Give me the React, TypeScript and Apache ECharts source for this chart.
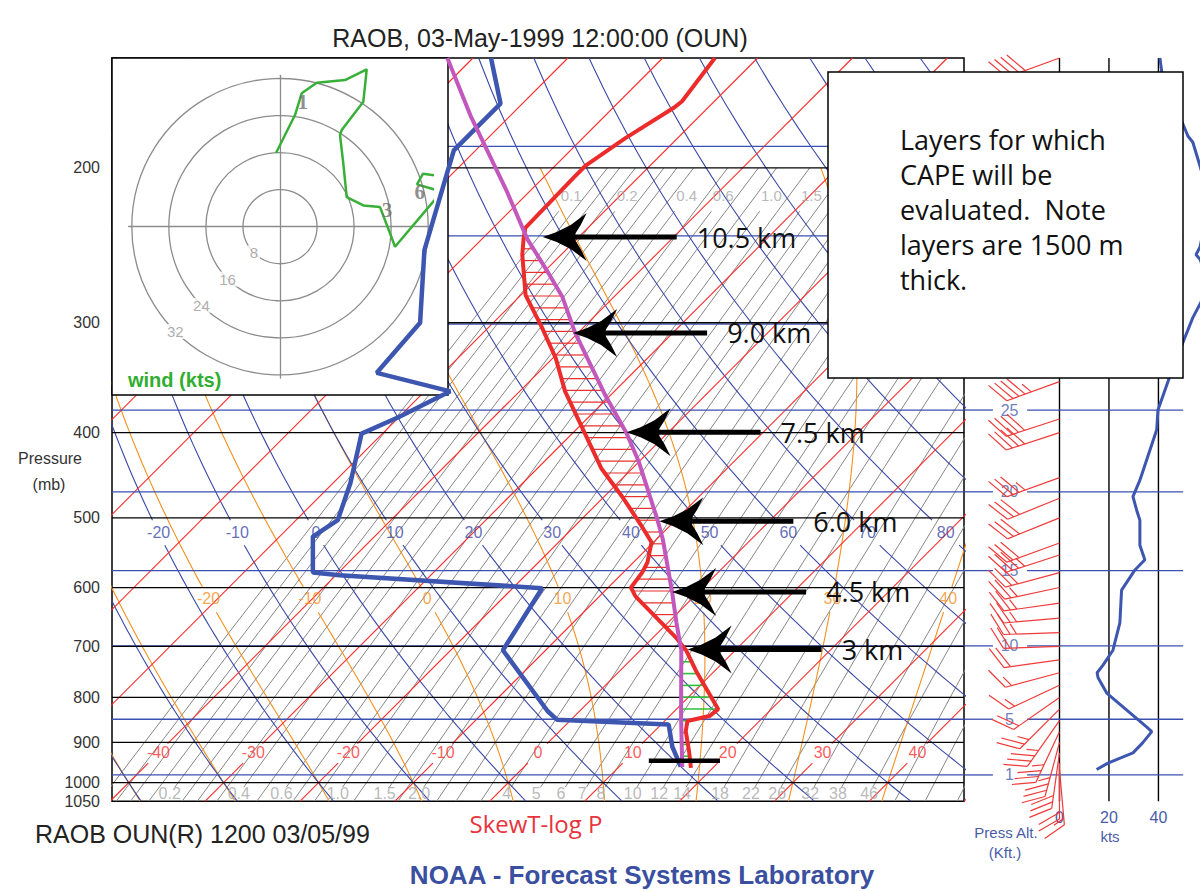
import React, { useEffect, useRef } from "react";
import * as echarts from "echarts";

// ---------------- Sounding data ----------------
const tempP = [962, 922, 874, 851, 840, 825, 746, 707, 683, 614, 600, 577, 562, 533, 512, 475, 439, 359, 329, 303, 279, 251, 241, 234, 205, 199, 185, 171, 168, 150];
const tempT = [17.7, 15.8, 13.3, 12.4, 14.2, 14.4, 8.0, 4.8, 2.3, -6.2, -7.6, -8.0, -8.5, -10.2, -12.8, -17.8, -23.3, -35.2, -39.7, -44.5, -49.5, -54.1, -55.6, -56.6, -56.8, -56.8, -55.5, -53.6, -53.4, -54.5];

const dewP = [959, 910, 859, 848, 829, 707, 601, 581, 577, 525, 503, 456, 401, 384, 359, 342, 300, 248, 205, 191, 182, 169, 150];
const dewT = [16.5, 13.5, 10.8, -1.5, -3.4, -14.5, -16.9, -39.6, -42.7, -46.5, -45.6, -48.2, -52.2, -50.0, -47.3, -57.0, -57.7, -64.9, -70.3, -72.3, -72.3, -72.3, -78.1];

const parcelP = [960, 844, 707, 658, 607, 528, 501, 431, 400, 363, 308, 280, 261, 241, 213, 175, 150];
const parcelT = [16.7, 11.4, 4.3, 0.9, -2.8, -9.4, -12.1, -20.1, -24.4, -30.5, -40.3, -45.5, -50.0, -55.2, -62.3, -74.0, -82.7];

const lfcP = 705;
const surfaceBarP = 944;
const surfaceBarT = [12.5, 20.0];

const arrowP = [239.7, 308.1, 399.7, 504.3, 607, 705.8];
const arrowT = [-53.8, -40.5, -24.4, -11.6, -2.8, 4.9];
const arrowLabels = ["10.5 km", "9.0 km", "7.5 km", "6.0 km", "4.5 km", "3 km"];

// wind speed profile (kts)
const spdP = [966, 950, 925, 901, 875, 864, 827, 791, 760, 750, 735, 707, 658, 604, 573, 558, 537, 503, 490, 473, 453, 397, 377, 337, 296, 272, 254, 251, 246, 218, 199, 187, 184, 156, 150];
const spdKts = [15.0, 19.6, 29.7, 33.6, 37.3, 35.2, 27.2, 19.1, 15.6, 15.2, 17.6, 21.6, 24.4, 25.1, 30.5, 34.5, 32.5, 32.5, 31.2, 29.7, 32.5, 39.3, 39.8, 45.9, 53.9, 60.8, 56.8, 55.2, 56.8, 60.8, 56.8, 53.9, 51.9, 41.4, 40.6];

// wind barbs
const barbP = [965, 950, 925, 900, 875, 850, 825, 800, 775, 750, 725, 700, 675, 650, 625, 600, 577, 551, 534, 500, 475, 450, 400, 386, 350, 300, 250, 200, 175, 158, 150];
const barbDir = [175, 180, 188, 195, 205, 215, 225, 235, 245, 255, 262, 268, 268, 265, 262, 258, 255, 252, 250, 248, 248, 250, 252, 252, 250, 250, 250, 250, 250, 250, 250];
const barbSpd = [15, 20, 30, 34, 37, 33, 27, 20, 16, 15, 18, 22, 24, 24, 25, 25, 30, 34, 32, 32, 30, 33, 39, 40, 45, 54, 56, 58, 52, 42, 40];

// hodograph (u, v in kts)
const hodoU = [-0.86, 3.24, 4.69, 7.93, 14.04, 18.73, 18.0, 13.33, 12.96, 13.67, 14.41, 18.0, 21.6, 23.76, 24.84, 34.93, 29.59, 30.89, 38.16, 39.24, 35.21];
const hodoV = [15.92, 24.12, 28.81, 31.1, 31.68, 34.0, 27.0, 20.88, 19.8, 13.67, 6.41, 4.6, 4.23, -1.41, -4.32, 7.56, 9.14, 11.45, 10.37, 7.56, 7.49];
const hodoMarkU = [4.9, 23.1, 30.2];
const hodoMarkV = [27.0, 3.6, 7.6];
const hodoMarkText = ["1", "3", "6"];
const hodoRings = [8, 16, 24, 32];

// axes / diagram reference values
const pressureTicks = [200, 300, 400, 500, 600, 700, 800, 900, 1000, 1050];
const pressureLines = [200, 300, 400, 500, 600, 700, 800, 900, 1000];
const kftLevels = [1, 5, 10, 15, 20, 25, 30, 35, 40];
const kftP = [980, 847, 699, 574, 467, 377, 301, 239, 189];
const kftLabelled = [1, 5, 10, 15, 20, 25];
const speedTicks = [0, 20, 40];
const isothermLabels = [-40, -30, -20, -10, 0, 10, 20, 30, 40];
const dryAdiabatLabels = [-20, -10, 0, 10, 20, 30, 40, 50, 60, 70, 80];
const moistAdiabatValues = [-40, -30, -20, -10, 0, 10, 20, 30, 40];
const moistAdiabatLabels = [-20, -10, 0, 10, 20, 30, 40];
const mixingLines = [0.1, 0.12, 0.14, 0.17, 0.2, 0.24, 0.28, 0.34, 0.4, 0.5, 0.6, 0.7, 0.85, 1.0, 1.2, 1.5, 1.75, 2.0, 2.4, 2.8, 3.4, 4, 5, 6, 7, 8, 10, 12, 14, 18, 22, 26, 32, 38, 46, 55, 66, 80];
const mixingBottomText = ["0.2", "0.4", "0.6", "1.0", "1.5", "2.0", "4", "5", "6", "7", "8", "10", "12", "14", "18", "22", "26", "32", "38", "46"];
const mixingTopText = ["0.1", "0.2", "0.4", "0.6", "1.0", "1.5"];
const boxLines = ["Layers for which", "CAPE will be", "evaluated.  Note", "layers are 1500 m", "thick."];

// ---------------- diagram geometry helpers ----------------
const LN = Math.log;
const SKEW = 40.21;
const XMIN = -39.8;
const XMAX = 50.0;
const sx = (T: number, p: number) => T + SKEW * Math.log(1050 / p);
const ptOf = (T: number, p: number) => [sx(T, p), LN(p)];

const samplePath = (pa: number, pb: number, fn: (p: number) => number, step = 10) => {
  const pts: number[][] = [];
  for (let p = pa; p > pb; p -= step) pts.push(ptOf(fn(p), p));
  pts.push(ptOf(fn(pb), pb));
  return pts;
};

const es = (Tc: number) => 6.112 * Math.exp((17.67 * Tc) / (Tc + 243.5));
const tdFromW = (w: number, p: number) => {
  const e = ((w / 1000) * p) / (0.622 + w / 1000);
  const l = Math.log(e / 6.112);
  return (243.5 * l) / (17.67 - l);
};
const moistRate = (p: number, Tk: number) => {
  const Rd = 287.04, Cp = 1005.7, Lv = 2.501e6, eps = 0.622;
  const e = es(Tk - 273.15);
  const r = (eps * e) / (p - e);
  return (Rd * Tk + Lv * r) / (Cp + (Lv * Lv * r * eps) / (Rd * Tk * Tk)) / p;
};
const moistCurve = (thw: number) => {
  const integrate = (pEnd: number, h: number) => {
    let p = 1000, T = thw + 273.15;
    const res: number[][] = [[p, T - 273.15]];
    while ((h < 0 && p > pEnd) || (h > 0 && p < pEnd)) {
      const k1 = moistRate(p, T);
      const k2 = moistRate(p + h / 2, T + (h / 2) * k1);
      const k3 = moistRate(p + h / 2, T + (h / 2) * k2);
      const k4 = moistRate(p + h, T + h * k3);
      T += (h / 6) * (k1 + 2 * k2 + 2 * k3 + k4);
      p += h;
      res.push([p, T - 273.15]);
    }
    return res;
  };
  const down = integrate(1050, 5).reverse();
  const up = integrate(200, -5);
  down.pop();
  return down.concat(up);
};
const interpCurve = (curve: number[][], p: number) => {
  for (let i = 0; i < curve.length - 1; i++) {
    const [p1, t1] = curve[i], [p2, t2] = curve[i + 1];
    if ((p1 - p) * (p2 - p) <= 0) return t1 + ((p - p1) / (p2 - p1)) * (t2 - t1);
  }
  return curve[curve.length - 1][1];
};

function buildBackground() {
  const iso: any[] = [];
  for (let T = -130; T <= 50; T += 10) {
    const parts = isothermLabels.includes(T) ? [[1050, 950], [903, 150]] : [[1050, 150]];
    parts.forEach(([a, b]) => iso.push({ coords: [ptOf(T, a), ptOf(T, b)] }));
  }
  const dry: any[] = [];
  for (let th = -40; th <= 150; th += 10) {
    const fn = (p: number) => (th + 273.15) * Math.pow(p / 1000, 0.2857) - 273.15;
    const parts = dryAdiabatLabels.includes(th) ? [[1050, 537], [503, 150]] : [[1050, 150]];
    parts.forEach(([a, b]) => dry.push({ coords: samplePath(a, b, fn) }));
  }
  const moist: any[] = [];
  const moistLbl: any[] = [];
  moistAdiabatValues.forEach((thw) => {
    const c = moistCurve(thw);
    const labeled = moistAdiabatLabels.includes(thw);
    const segA = c.filter(([p]) => !labeled || p >= 636);
    const segB = labeled ? c.filter(([p]) => p <= 600) : [];
    [segA, segB].forEach((s) => {
      if (s.length > 1) moist.push({ coords: s.map(([p, t]) => ptOf(t, p)) });
    });
    if (labeled) {
      const t = interpCurve(c, 617);
      moistLbl.push([sx(t, 617), LN(617), String(thw)]);
    }
  });
  const mix: any[] = [];
  mixingLines.forEach((w) => {
    const bottomLab = mixingBottomText.some((s) => Math.abs(parseFloat(s) - w) < 1e-6);
    const topLab = mixingTopText.some((s) => Math.abs(parseFloat(s) - w) < 1e-6);
    const a = bottomLab ? 1012 : 1050;
    const b = topLab ? 224 : 200;
    mix.push({ coords: samplePath(a, b, (p) => tdFromW(w, p), 25) });
  });
  const isoLbl = isothermLabels.map((T) => [sx(T, 925), LN(925), String(T)]);
  const dryLbl = dryAdiabatLabels.map((th) => {
    const t = (th + 273.15) * Math.pow(0.52, 0.2857) - 273.15;
    return [sx(t, 520), LN(520), String(th)];
  });
  const mixBotLbl = mixingBottomText.map((s) => [sx(tdFromW(parseFloat(s), 1030), 1030), LN(1030), s]);
  const mixTopLbl = mixingTopText.map((s) => [sx(tdFromW(parseFloat(s), 215), 215), LN(215), s]);
  const pLines = pressureLines.map((p) => ({ coords: [[XMIN, LN(p)], [XMAX, LN(p)]] }));
  const kLines = kftP.map((p) => ({ coords: [[XMIN, LN(p)], [XMAX, LN(p)]] }));
  return { iso, dry, moist, mix, isoLbl, dryLbl, moistLbl, mixBotLbl, mixTopLbl, pLines, kLines };
}

const interpY = (pts: number[][], y: number) => {
  for (let i = 0; i < pts.length - 1; i++) {
    const [x1, y1] = pts[i], [x2, y2] = pts[i + 1];
    if ((y1 - y) * (y2 - y) <= 0 && y1 !== y2) return x1 + ((y - y1) / (y2 - y1)) * (x2 - x1);
  }
  return null;
};

export default function App() {
  const ref = useRef<HTMLDivElement>(null);
  useEffect(() => {
    if (!ref.current) return;
    const chart = echarts.init(ref.current, null, { renderer: "svg" });
    const bg = buildBackground();
    const FONT = "Liberation Sans";

    const lines = (data: any[], color: string, width: number, xi = 0, z = 1) => ({
      type: "lines", coordinateSystem: "cartesian2d", xAxisIndex: xi, yAxisIndex: xi,
      polyline: true, silent: true, z, clip: true, data,
      lineStyle: { color, width, opacity: 1 },
    });
    const labels = (data: any[], color: string, size: number, xi = 0, z = 2, extra: any = {}) => ({
      type: "scatter", xAxisIndex: xi, yAxisIndex: xi, symbolSize: 0, silent: true, z, data,
      label: { show: true, position: "inside", formatter: (p: any) => p.data[2], color, fontSize: size, fontFamily: FONT, ...extra },
    });

    const barbColor = "#f03a3a";
    const option: any = {
      animation: false,
      backgroundColor: "#ffffff",
      textStyle: { fontFamily: FONT },
      grid: [
        { left: 112, top: 58, width: 852, height: 743.3, show: true, borderColor: "#000", borderWidth: 1.5, backgroundColor: "transparent", outerBoundsMode: "none" },
        { left: 965, top: 58, width: 235, height: 743.3, show: false, outerBoundsMode: "none" },
        { left: 128.6, top: 75.3, width: 302.8, height: 302.8, show: false, outerBoundsMode: "none" },
      ],
      xAxis: [
        { gridIndex: 0, type: "value", min: XMIN, max: XMAX, show: false },
        {
          gridIndex: 1, type: "value", min: -38.2, max: 56.8,
          axisLine: { show: false }, axisTick: { show: false }, splitLine: { show: false },
          axisLabel: { customValues: speedTicks, color: "#4a5ca8", fontSize: 16, margin: 8, fontFamily: FONT },
        },
        {
          gridIndex: 2, type: "value", min: -32.7, max: 32.7, z: 4,
          axisLine: { onZero: true, lineStyle: { color: "#8c8c8c", width: 1.3 } },
          axisTick: { show: false }, axisLabel: { show: false }, splitLine: { show: false },
        },
      ],
      yAxis: [
        {
          gridIndex: 0, type: "value", inverse: true, min: LN(150), max: LN(1050),
          axisLine: { show: false }, axisTick: { show: false }, splitLine: { show: false },
          axisLabel: {
            customValues: pressureTicks.map((p) => LN(p)),
            formatter: (v: number) => String(Math.round(Math.exp(v))),
            color: "#333", fontSize: 16, margin: 12, fontFamily: FONT,
          },
        },
        { gridIndex: 1, type: "value", inverse: true, min: LN(150), max: LN(1050), show: false },
        {
          gridIndex: 2, type: "value", min: -32.7, max: 32.7, z: 4,
          axisLine: { onZero: true, lineStyle: { color: "#8c8c8c", width: 1.3 } },
          axisTick: { show: false }, axisLabel: { show: false }, splitLine: { show: false },
        },
      ],
      polar: { center: [280, 226.7], radius: 148.2 },
      radiusAxis: {
        min: 0, max: 32, interval: 8, z: 4,
        axisLine: { show: false }, axisTick: { show: false }, axisLabel: { show: false },
        splitLine: { show: true, lineStyle: { color: "#8c8c8c", width: 1.3 } },
      },
      angleAxis: {
        type: "value", min: 0, max: 360, startAngle: 90, z: 4,
        axisLine: { show: false }, axisTick: { show: false }, axisLabel: { show: false }, splitLine: { show: false },
      },
      series: [
        lines(bg.mix, "#878787", 1),
        lines(bg.moist, "#f5901e", 1.1),
        lines(bg.dry, "#3a48a8", 1.1),
        lines(bg.iso, "#ff2a2a", 1.1),
        lines(bg.kLines, "#3b50b0", 1.3),
        lines(bg.pLines, "#000000", 1.3),
        labels(bg.isoLbl, "#ff3030", 16),
        labels(bg.dryLbl, "#3a48a8", 16),
        labels(bg.moistLbl, "#f5901e", 16),
        labels(bg.mixBotLbl, "#a6a6a6", 16),
        labels(bg.mixTopLbl, "#a6a6a6", 15),
        // CAPE / CIN hatching
        {
          type: "custom", xAxisIndex: 0, yAxisIndex: 0, z: 5, silent: true,
          data: [[0, LN(500)]],
          renderItem: (params: any, api: any) => {
            const tp = tempP.map((p, i) => api.coord(ptOf(tempT[i], p)));
            const pp = parcelP.map((p, i) => api.coord(ptOf(parcelT[i], p)));
            const lfcY = api.coord([0, LN(lfcP)])[1];
            const yTop = Math.max(tp[tp.length - 1][1], pp[pp.length - 1][1]);
            const yBot = Math.min(tp[0][1], pp[0][1]);
            const children: any[] = [];
            for (let y = yTop + 2; y <= yBot; y += 11.8) {
              const xe = interpY(tp, y), xp = interpY(pp, y);
              if (xe == null || xp == null) continue;
              if (xp > xe + 1.5) {
                children.push({ type: "line", shape: { x1: xe, y1: y, x2: xp, y2: y }, style: { stroke: "#e8302e", lineWidth: 1.2 } });
              } else if (xp < xe - 1 && y > lfcY) {
                children.push({ type: "line", shape: { x1: xp, y1: y, x2: xe, y2: y }, style: { stroke: "#2fbf3a", lineWidth: 1.6 } });
              }
            }
            return { type: "group", children };
          },
        },
        {
          type: "line", xAxisIndex: 0, yAxisIndex: 0, z: 6, symbol: "none", silent: true,
          data: dewP.map((p, i) => ptOf(dewT[i], p)),
          lineStyle: { color: "#3d56b0", width: 4.5 },
        },
        {
          type: "line", xAxisIndex: 0, yAxisIndex: 0, z: 6, symbol: "none", silent: true,
          data: tempP.map((p, i) => ptOf(tempT[i], p)),
          lineStyle: { color: "#ec2b2b", width: 4 },
        },
        {
          type: "line", xAxisIndex: 0, yAxisIndex: 0, z: 6, symbol: "none", silent: true,
          data: parcelP.map((p, i) => ptOf(parcelT[i], p)),
          lineStyle: { color: "#c257bd", width: 4 },
        },
        {
          type: "line", xAxisIndex: 0, yAxisIndex: 0, z: 6, symbol: "none", silent: true,
          data: surfaceBarT.map((t) => ptOf(t, surfaceBarP)),
          lineStyle: { color: "#000", width: 4.5 },
        },
        // arrows
        {
          type: "custom", xAxisIndex: 0, yAxisIndex: 0, z: 7, silent: true,
          data: arrowP.map((p, i) => [sx(arrowT[i], p), LN(p), i]),
          renderItem: (params: any, api: any) => {
            const [x, y] = api.coord([api.value(0), api.value(1)]);
            const i = api.value(2);
            const rel = [[0, 0], [14, -5], [28, -12], [44, -24], [38, -12], [33, -4], [32, 0], [33, 4], [38, 12], [44, 24], [28, 12], [14, 5]];
            return {
              type: "group",
              children: [
                { type: "polygon", shape: { points: rel.map(([dx, dy]) => [x + dx, y + dy]) }, style: { fill: "#000" } },
                { type: "line", shape: { x1: x + 30, y1: y, x2: x + 134, y2: y }, style: { stroke: "#000", lineWidth: 5 } },
                { type: "text", style: { text: arrowLabels[i], x: x + 154, y, verticalAlign: "middle", align: "left", font: '27px "Open Sans"', fill: "#111" } },
              ],
            };
          },
        },
        // right panel
        lines(speedTicks.map((v) => ({ coords: [[v, LN(150)], [v, LN(1050)]] })), "#000", 1.4, 1),
        lines(kftP.flatMap((p) => [
          { coords: [[-38.2, LN(p)], [-26.9, LN(p)]] },
          { coords: [[-13.1, LN(p)], [50, LN(p)]] },
        ]), "#3b50b0", 1.3, 1),
        labels(kftLevels.map((k, i) => [-20.2, LN(kftP[i]), String(k)]).filter((d) => kftLabelled.includes(Number(d[2]))), "#4a5ca8", 16, 1, 3),
        {
          type: "custom", xAxisIndex: 1, yAxisIndex: 1, z: 4, silent: true,
          data: barbP.map((p, i) => [0, LN(p), barbDir[i], barbSpd[i]]),
          renderItem: (params: any, api: any) => {
            const a = api.coord([0, api.value(1)]);
            const d = (api.value(2) * Math.PI) / 180;
            let rem = Math.round(api.value(3) / 5) * 5;
            const ux = Math.sin(d), uy = -Math.cos(d);
            const L = 56, F = 24, gap = 6.5;
            const tip = [a[0] + L * ux, a[1] + L * uy];
            const fx = ux * 0.5 - uy * 0.866, fy = ux * 0.866 + uy * 0.5;
            const st = { stroke: barbColor, lineWidth: 1.2 };
            const children: any[] = [{ type: "line", shape: { x1: a[0], y1: a[1], x2: tip[0], y2: tip[1] }, style: st }];
            let pos = 0;
            const at = (s: number) => [tip[0] - ux * s, tip[1] - uy * s];
            while (rem >= 50) {
              const p0 = at(pos), p2 = at(pos + 8);
              children.push({ type: "polygon", shape: { points: [p0, [p0[0] + fx * F, p0[1] + fy * F], p2] }, style: { fill: barbColor } });
              pos += 10; rem -= 50;
            }
            while (rem >= 10) {
              const p0 = at(pos);
              children.push({ type: "line", shape: { x1: p0[0], y1: p0[1], x2: p0[0] + fx * F, y2: p0[1] + fy * F }, style: st });
              pos += gap; rem -= 10;
            }
            if (rem >= 5) {
              if (pos === 0) pos = gap;
              const p0 = at(pos);
              children.push({ type: "line", shape: { x1: p0[0], y1: p0[1], x2: p0[0] + fx * F * 0.5, y2: p0[1] + fy * F * 0.5 }, style: st });
            }
            return { type: "group", children };
          },
        },
        {
          type: "line", xAxisIndex: 1, yAxisIndex: 1, z: 5, symbol: "none", silent: true, clip: true,
          data: spdP.map((p, i) => [spdKts[i], LN(p)]),
          lineStyle: { color: "#3d56b0", width: 3 },
        },
        // hodograph
        labels(hodoRings.map((r) => [-0.7071 * r, -0.7071 * r, String(r)]), "#9a9a9a", 15, 2, 5, { backgroundColor: "#fff", padding: [0, 2] }),
        {
          type: "line", xAxisIndex: 2, yAxisIndex: 2, z: 6, symbol: "none", silent: true, clip: false,
          data: hodoU.map((u, i) => [u, hodoV[i]]),
          lineStyle: { color: "#38b038", width: 2.5 },
        },
        labels(hodoMarkU.map((u, i) => [u, hodoMarkV[i], hodoMarkText[i]]), "#707070", 21, 2, 7, { fontFamily: "Liberation Serif", fontWeight: "bold" }),
      ],
      graphic: [
        { type: "rect", z: 3, shape: { x: 112, y: 58, width: 336, height: 337 }, style: { fill: "#fff", stroke: "#000", lineWidth: 1.5 } },
        { type: "text", z: 6, style: { text: "wind (kts)", x: 128, y: 380, verticalAlign: "middle", font: `bold 20px "${FONT}"`, fill: "#2fae2f" } },
        { type: "rect", z: 20, shape: { x: 828, y: 72, width: 355, height: 306 }, style: { fill: "#fff", stroke: "#000", lineWidth: 1.5 } },
        { type: "text", z: 21, style: { text: boxLines.join("\n"), x: 900, y: 122, font: '27px "Open Sans"', lineHeight: 35, fill: "#111" } },
        { type: "text", style: { text: "RAOB, 03-May-1999 12:00:00 (OUN)", x: 540, y: 38, align: "center", verticalAlign: "middle", font: `25px "${FONT}"`, fill: "#222" } },
        { type: "text", style: { text: "Pressure", x: 50, y: 458, align: "center", verticalAlign: "middle", font: `16px "${FONT}"`, fill: "#333" } },
        { type: "text", style: { text: "(mb)", x: 49, y: 484, align: "center", verticalAlign: "middle", font: `16px "${FONT}"`, fill: "#333" } },
        { type: "text", style: { text: "RAOB OUN(R) 1200 03/05/99", x: 35, y: 834, verticalAlign: "middle", font: `25px "${FONT}"`, fill: "#222" } },
        { type: "text", style: { text: "SkewT-log P", x: 536, y: 823, align: "center", verticalAlign: "middle", font: '24px "Open Sans"', fill: "#e8343c" } },
        { type: "text", style: { text: "NOAA - Forecast Systems Laboratory", x: 642, y: 875, align: "center", verticalAlign: "middle", font: `bold 26px "${FONT}"`, fill: "#3b4fa0" } },
        { type: "text", style: { text: "Press Alt.", x: 1006, y: 832, align: "center", verticalAlign: "middle", font: `15px "${FONT}"`, fill: "#4a5ca8" } },
        { type: "text", style: { text: "(Kft.)", x: 1005, y: 852, align: "center", verticalAlign: "middle", font: `15px "${FONT}"`, fill: "#4a5ca8" } },
        { type: "text", style: { text: "kts", x: 1110, y: 836, align: "center", verticalAlign: "middle", font: `15px "${FONT}"`, fill: "#4a5ca8" } },
      ],
    };
    chart.setOption(option);
    return () => chart.dispose();
  }, []);
  return <div ref={ref} style={{ position: "absolute", left: 0, top: 0, width: 1200, height: 891 }} />;
}
